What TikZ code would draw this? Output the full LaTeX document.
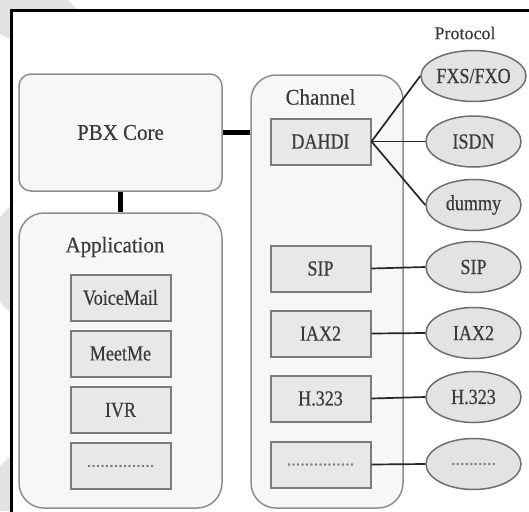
\documentclass[tikz,border=0pt]{standalone}
\usepackage{fontspec}
\setmainfont{Liberation Serif}
\newfontfamily\condfont[FakeStretch=0.84,FakeBold=0.4]{Liberation Serif}
\newfontfamily\titlefont[FakeStretch=0.93,FakeBold=0.4]{Liberation Serif}
\newfontfamily\protofont[FakeBold=0.3]{Liberation Serif}
\usetikzlibrary{shapes.geometric}
\definecolor{txt}{HTML}{3A3A3A}
\definecolor{outerfill}{HTML}{F7F7F7}
\definecolor{outerdraw}{HTML}{8E8E8E}
\definecolor{innerfill}{HTML}{E8E8E8}
\definecolor{innerdraw}{HTML}{7C7C7C}
\definecolor{ellfill}{HTML}{E3E3E3}
\definecolor{elldraw}{HTML}{6E6E6E}
\definecolor{wm}{HTML}{E2E2E2}
\definecolor{dotc}{HTML}{7A7A7A}
\newcommand{\dotsfont}{\protofont\fontsize{18}{21}\selectfont\color{dotc}}
\tikzset{
  outerbox/.style={draw=outerdraw, fill=outerfill, line width=1.5pt, rounded corners=#1, inner sep=0pt},
  innerbox/.style={draw=innerdraw, fill=innerfill, line width=2pt, minimum width=100pt, minimum height=46pt, inner sep=0pt, text=txt, font=\condfont\fontsize{21.5}{25}\selectfont},
  proto/.style={ellipse, draw=elldraw, fill=ellfill, line width=1.5pt, minimum width=95pt, minimum height=51pt, inner sep=0pt, text=txt, font=\condfont\fontsize{21.5}{25}\selectfont},
  title/.style={text=txt, font=\titlefont\fontsize{22.5}{26}\selectfont, inner sep=0pt},
  thick link/.style={line width=5pt, black},
  thin link/.style={line width=1.7pt, black!85}
}
\begin{document}
\begin{tikzpicture}[x=1pt,y=-1pt]
\useasboundingbox (0,0) rectangle (529,511);
% watermark shapes outside the frame
\fill[wm] (0,0) -- (68,0) -- (79,11) -- (11,11) -- (11,40) -- (0,34) -- cycle;
\fill[wm] (0,217) -- (11,205) -- (11,313) -- (0,302) -- cycle;
\fill[wm] (0,466) -- (11,455) -- (11,511) -- (0,511) -- cycle;
% frame
\draw[line width=3pt, line cap=rect] (11,511) -- (11,10.5) -- (529,10.5);

% outer boxes
\node[outerbox=12pt, minimum width=203pt, minimum height=117pt, title] (pbx) at (120.5,132.5) {PBX Core};
\node[outerbox=25pt, minimum width=203pt, minimum height=295pt] (app) at (120.5,360.5) {};
\node[outerbox=25pt, minimum width=152pt, minimum height=433pt] (chan) at (327,291.5) {};
\node[title] (apptitle) at (115,247) {Application};
\node[title] (chantitle) at (320.5,97) {Channel};

% application items
\node[innerbox] (vm) at (120.5,297.5) {VoiceMail};
\node[innerbox] (meet) at (120.5,353.5) {MeetMe};
\node[innerbox] (ivr) at (120.5,410) {IVR};
\node[innerbox] (appdots) at (120.5,466) {\dotsfont ...............};

% channel items
\node[innerbox] (dahdi) at (320.5,141.5) {DAHDI};
\node[innerbox] (sipc) at (320.5,268.5) {SIP};
\node[innerbox] (iaxc) at (320.5,333.5) {IAX2};
\node[innerbox] (hc) at (320.5,398.5) {H.323};
\node[innerbox] (chdots) at (320.5,464.5) {\dotsfont ...............};

% protocols
\node[text=txt, font=\protofont\fontsize{18}{21}\selectfont, inner sep=0pt] (protolabel) at (465,33) {Protocol};
\node[proto] (fxs) at (473.5,76) {FXS/FXO};
\node[proto] (isdn) at (473.5,141.5) {ISDN};
\node[proto] (dummy) at (473.5,205) {dummy};
\node[proto] (sipp) at (473.5,267) {SIP};
\node[proto] (iaxp) at (473.5,333) {IAX2};
\node[proto] (hp) at (473.5,397) {H.323};
\node[proto] (pdots) at (473.5,464) {\dotsfont ..........};

% connectors
\draw[thick link] (pbx.east) -- (pbx.east -| chan.west);
\draw[thick link] (pbx.south) -- (app.north);
\draw[thin link] (dahdi.east) -- (fxs.west);
\draw[thin link] (dahdi.east) -- (isdn.west);
\draw[thin link] (dahdi.east) -- (dummy.west);
\draw[thin link] (sipc.east) -- (sipp.west);
\draw[thin link] (iaxc.east) -- (iaxp.west);
\draw[thin link] (hc.east) -- (hp.west);
\draw[thin link] (chdots.east) -- (pdots.west);
\end{tikzpicture}
\end{document}
